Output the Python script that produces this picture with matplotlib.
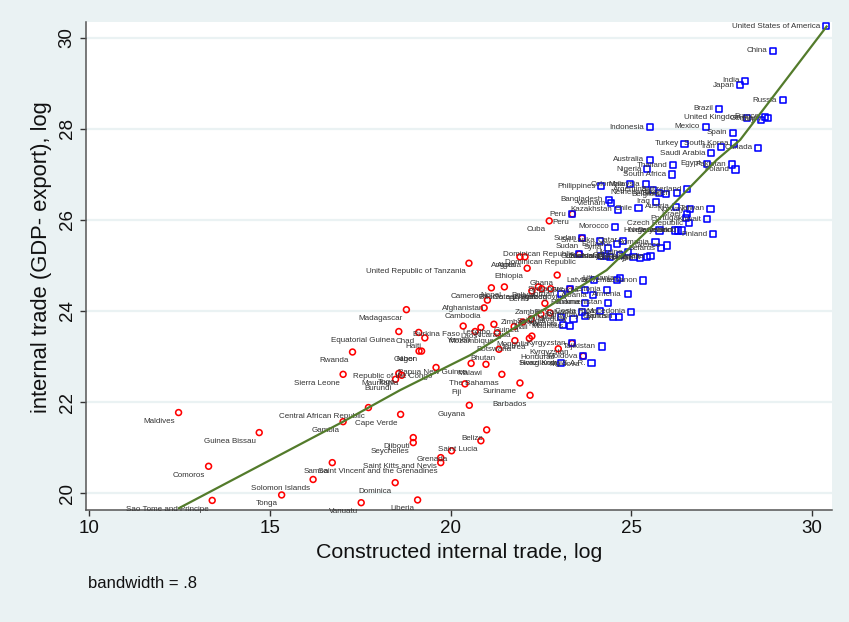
import matplotlib
matplotlib.use("Agg")
import matplotlib.pyplot as plt

plt.rcParams['font.family'] = ['Liberation Sans', 'DejaVu Sans']

# small economies (red hollow circles)
small_names = [
    'Maldives', 'Guinea Bissau', 'Comoros', 'Sao Tome and Principe', 'Tonga',
    'Solomon Islands', 'Samoa', 'Gambia', 'Central African Republic', 'Cape Verde',
    'Djibouti', 'Seychelles', 'Vanuatu', 'Dominica', 'Liberia',
    'Saint Kitts and Nevis', 'Saint Vincent and the Grenadines', 'Grenada', 'Saint Lucia', 'Belize',
    'Guyana', 'Barbados', 'Suriname', 'The Bahamas', 'Fiji',
    'Malawi', 'Papua New Guinea', 'Sierra Leone', 'Rwanda', 'Burundi',
    'Togo', 'Mauritania', 'Republic of the Congo', 'Niger', 'Gabon',
    'Equatorial Guinea', 'Chad', 'Haiti', 'Madagascar', 'United Republic of Tanzania',
    'Burkina Faso', 'Laos', 'Cambodia', 'Afghanistan', 'Cameroon',
    'Nepal', 'Angola', 'Algeria', 'Ethiopia', 'Ghana',
    'Cuba', 'Peru', 'Sudan', 'Dominican Republic', 'Kyrgyzstan',
    'Moldova', 'Bosnia and Herzegovina', 'Benin', 'Bolivia', "Cote d'Ivoire",
    'Uganda', 'Zambia', 'Zimbabwe', 'Senegal', 'Mali',
    'Guinea', 'Nicaragua', 'Lesotho', 'Mozambique', 'Eritrea',
    'Mongolia', 'Botswana', 'Bhutan', 'Yemen', 'Honduras',
]
small_x = [
    12.48, 14.71, 13.31, 13.41, 15.33,
    16.20, 16.73, 17.03, 17.73, 18.62,
    18.97, 18.97, 17.53, 18.47, 19.09,
    19.73, 19.73, 20.03, 20.84, 21.00,
    20.52, 22.20, 21.92, 21.42, 20.40,
    20.98, 20.57, 17.03, 17.29, 18.48,
    18.57, 18.65, 19.60, 19.13, 19.20,
    18.57, 19.12, 19.29, 18.78, 20.51,
    20.35, 20.84, 20.93, 21.02, 21.13,
    21.49, 21.92, 22.06, 22.12, 22.95,
    22.73, 23.37, 23.64, 23.56, 23.36,
    23.67, 23.30, 22.25, 22.43, 22.52,
    22.77, 22.61, 22.50, 22.75, 22.23,
    22.00, 21.76, 21.20, 21.29, 22.18,
    22.25, 21.78, 21.34, 20.68, 22.98,
]
small_y = [
    21.77, 21.33, 20.59, 19.84, 19.96,
    20.30, 20.67, 21.57, 21.88, 21.73,
    21.22, 21.11, 19.79, 20.23, 19.85,
    20.78, 20.67, 20.93, 21.15, 21.39,
    21.93, 22.15, 22.42, 22.61, 22.40,
    22.83, 22.85, 22.61, 23.10, 22.50,
    22.63, 22.59, 22.76, 23.12, 23.12,
    23.55, 23.53, 23.41, 24.03, 25.05,
    23.67, 23.64, 24.07, 24.24, 24.51,
    24.53, 25.19, 25.19, 24.94, 24.79,
    25.98, 26.13, 25.60, 25.25, 23.29,
    23.01, 24.48, 24.44, 24.53, 24.49,
    24.49, 24.17, 23.93, 23.96, 23.82,
    23.76, 23.66, 23.71, 23.52, 23.40,
    23.45, 23.35, 23.16, 23.55, 23.17,
]

# large economies (blue hollow squares)
large_names = [
    'United States of America', 'China', 'India', 'Japan', 'Russia',
    'Brazil', 'United Kingdom', 'France', 'Germany', 'Italy',
    'Mexico', 'Indonesia', 'Spain', 'Turkey', 'South Korea',
    'Iran', 'Canada', 'Saudi Arabia', 'Australia', 'Nigeria',
    'Thailand', 'Egypt', 'Pakistan', 'Poland', 'South Africa',
    'Philippines', 'Colombia', 'Malaysia', 'Argentina', 'Netherlands',
    'Belgium', 'Sweden', 'Switzerland', 'Bangladesh', 'Vietnam',
    'Kazakhstan', 'Chile', 'Iraq', 'Austria', 'Norway',
    'Taiwan', 'Israel', 'Portugal', 'Kuwait', 'Czech Republic',
    'Morocco', 'Hungary', 'Denmark', 'Ireland', 'Finland',
    'New Zealand', 'Peru', 'Sudan', 'Sri Lanka', 'Syria',
    'Ecuador', 'Qatar', 'Romania', 'Greece', 'Belarus',
    'Dominican Republic', 'Tunisia', 'Guatemala', 'Uzbekistan', 'Oman',
    'Ukraine', 'Slovakia', 'Azerbaijan', 'Bulgaria', 'Croatia',
    'Lithuania', 'Lebanon', 'Latvia', 'Slovenia', 'Estonia',
    'Armenia', 'Georgia', 'Albania', 'Jordan', 'Panama',
    'Turkmenistan', 'Costa Rica', 'El Salvador', 'Macedonia', 'Jamaica',
    'Uruguay', 'Paraguay', 'Cyprus', 'Bahrain', 'Namibia',
    'Mauritius', 'Kyrgyzstan', 'Moldova', 'Tajikistan', 'Hong Kong S.A.R.',
    'Swaziland', 'Singapore',
]
large_x = [
    30.39, 28.91, 28.15, 28.01, 29.19,
    27.43, 28.20, 28.70, 28.78, 28.58,
    27.06, 25.52, 27.80, 26.47, 27.85,
    27.47, 28.51, 27.21, 25.52, 25.44,
    26.15, 27.09, 27.79, 27.88, 26.12,
    24.17, 24.97, 25.41, 25.59, 25.77,
    25.95, 26.26, 26.55, 24.38, 24.45,
    24.63, 25.20, 25.68, 26.24, 26.62,
    27.19, 26.53, 26.51, 27.10, 26.60,
    24.56, 25.78, 26.21, 26.30, 27.27,
    26.39, 23.37, 23.64, 24.14, 24.36,
    24.61, 24.78, 25.67, 25.98, 25.82,
    23.56, 24.15, 24.30, 24.41, 24.69,
    24.92, 25.06, 25.24, 25.43, 25.53,
    24.69, 25.33, 23.97, 24.60, 24.33,
    24.90, 23.72, 23.95, 23.07, 23.73,
    24.36, 24.13, 23.64, 24.99, 23.06,
    23.40, 23.72, 24.50, 24.65, 23.12,
    23.30, 23.35, 23.67, 24.18, 23.90,
    23.05, 23.30,
]
large_y = [
    30.26, 29.72, 29.06, 28.96, 28.63,
    28.44, 28.25, 28.27, 28.24, 28.20,
    28.05, 28.04, 27.92, 27.67, 27.68,
    27.61, 27.59, 27.47, 27.32, 27.12,
    27.20, 27.23, 27.22, 27.11, 27.00,
    26.74, 26.79, 26.79, 26.66, 26.60,
    26.57, 26.59, 26.68, 26.44, 26.37,
    26.22, 26.26, 26.40, 26.29, 26.24,
    26.25, 26.13, 26.04, 26.02, 25.93,
    25.85, 25.77, 25.77, 25.77, 25.69,
    25.77, 26.13, 25.60, 25.54, 25.39,
    25.47, 25.54, 25.51, 25.44, 25.38,
    25.25, 25.20, 25.20, 25.19, 25.23,
    25.29, 25.18, 25.16, 25.18, 25.20,
    24.72, 24.67, 24.68, 24.68, 24.47,
    24.37, 24.46, 24.35, 24.37, 24.18,
    24.18, 24.00, 23.97, 23.98, 23.86,
    23.82, 23.90, 23.87, 23.87, 23.70,
    23.67, 23.29, 23.01, 23.22, 22.85,
    22.85, 24.48,
]

# lowess fit (bandwidth .8), sampled along the smoothed curve
fit_x = [12.49, 17.03, 18.60, 20.54, 21.37, 24.32, 25.52, 27.36, 28.01, 30.40]
fit_y = [19.67, 21.57, 22.26, 23.03, 23.43, 24.90, 25.82, 27.32, 27.76, 30.25]
bandwidth = .8

bg = '#eaf2f3'
fig = plt.figure(figsize=(8.49, 6.22), dpi=100, facecolor=bg)
ax = fig.add_axes([0.1013, 0.1801, 0.8787, 0.7846])
ax.set_facecolor('white')

ax.scatter(small_x, small_y, s=4.2 ** 2, marker='o', facecolors='none',
           edgecolors='#ff0000', linewidths=1.15, zorder=3)
for name, x, y in zip(small_names, small_x, small_y):
    ax.annotate(name, (x, y), xytext=(-2.5, -6.3), textcoords='offset points',
                ha='right', va='center', fontsize=5.8, color='#333333', zorder=3)

ax.scatter(large_x, large_y, s=4.4 ** 2, marker='s', facecolors='none',
           edgecolors='#0000ff', linewidths=1.15, zorder=4)
for name, x, y in zip(large_names, large_x, large_y):
    ax.annotate(name, (x, y), xytext=(-4.2, 0), textcoords='offset points',
                ha='right', va='center', fontsize=5.8, color='#333333', zorder=4)

ax.plot(fit_x, fit_y, color='#537b2b', lw=1.6, zorder=5)

ax.set_xlim(9.92, 30.55)
ax.set_ylim(19.63, 30.35)
ax.set_xticks([10, 15, 20, 25, 30])
ax.set_yticks([20, 22, 24, 26, 28, 30])
ax.grid(axis='y', color=bg, lw=1.6)
ax.set_axisbelow(True)
for side in ['top', 'right']:
    ax.spines[side].set_visible(False)
for side in ['left', 'bottom']:
    ax.spines[side].set_color('#555555')
    ax.spines[side].set_linewidth(1.1)
ax.tick_params(axis='both', length=4.5, width=1.0, color='#333333',
               labelsize=13.5, labelcolor='#111111', pad=3)
ax.tick_params(axis='y', labelrotation=90)
for lab in ax.get_yticklabels():
    lab.set_va('center')

ax.set_xlabel('Constructed internal trade, log', fontsize=15.4, labelpad=4, color='#111111')
ax.set_ylabel('internal trade (GDP- export), log', fontsize=15.8, color='#111111')
ax.yaxis.set_label_coords(-0.046, 0.518)
fig.text(88 / 849, 1 - 583 / 622, f'bandwidth = {str(bandwidth).lstrip("0")}',
         fontsize=12, ha='left', va='center', color='#111111')

fig.savefig('out.png', dpi=100, facecolor=bg)
